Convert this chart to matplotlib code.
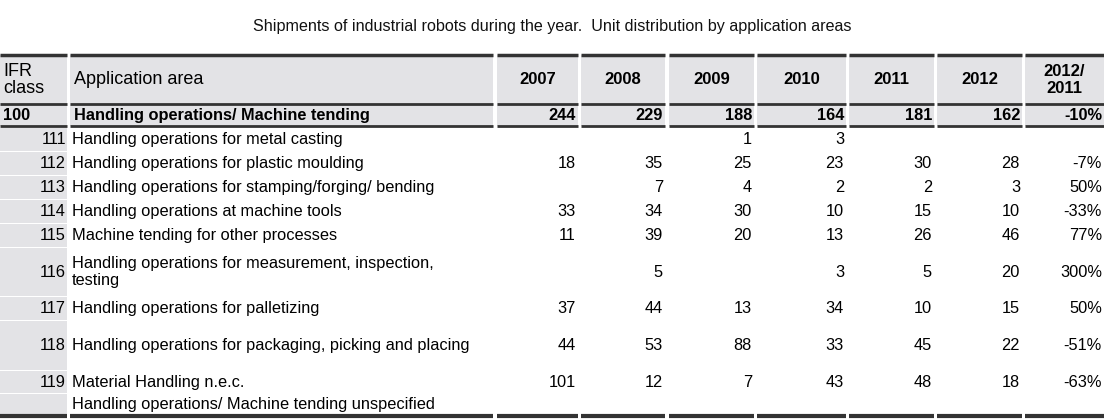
import matplotlib.pyplot as plt
from matplotlib.patches import Rectangle

plt.rcParams['font.family'] = 'Liberation Sans'

title = "Shipments of industrial robots during the year.  Unit distribution by application areas"
years = ["2007", "2008", "2009", "2010", "2011", "2012", "2012/\n2011"]

total_class = "100"
total_name = "Handling operations/ Machine tending"
total_values = ["244", "229", "188", "164", "181", "162", "-10%"]

classes = ["111", "112", "113", "114", "115", "116", "117", "118", "119", ""]
names = [
    "Handling operations for metal casting",
    "Handling operations for plastic moulding",
    "Handling operations for stamping/forging/ bending",
    "Handling operations at machine tools",
    "Machine tending for other processes",
    "Handling operations for measurement, inspection,\ntesting",
    "Handling operations for palletizing",
    "Handling operations for packaging, picking and placing",
    "Material Handling n.e.c.",
    "Handling operations/ Machine tending unspecified",
]
values = [
    ["", "", "1", "3", "", "", ""],
    ["18", "35", "25", "23", "30", "28", "-7%"],
    ["", "7", "4", "2", "2", "3", "50%"],
    ["33", "34", "30", "10", "15", "10", "-33%"],
    ["11", "39", "20", "13", "26", "46", "77%"],
    ["", "5", "", "3", "5", "20", "300%"],
    ["37", "44", "13", "34", "10", "15", "50%"],
    ["44", "53", "88", "33", "45", "22", "-51%"],
    ["101", "12", "7", "43", "48", "18", "-63%"],
    ["", "", "", "", "", "", ""],
]

# layout in pixels
col_edges = [(0, 67), (70, 493), (497, 578), (581, 665), (669, 754),
             (757, 846), (849, 934), (937, 1022), (1025, 1104)]
row_edges = [(128, 151), (152, 175), (176, 199), (200, 223), (224, 247),
             (248, 296), (297, 320), (321, 370), (371, 393), (394, 414)]
head_top, head_bot, tot_bot = 55, 104, 126
gray = '#e3e3e6'
dark = '#333333'

fig = plt.figure(figsize=(11.04, 4.19), dpi=100)
ax = fig.add_axes([0, 0, 1, 1])
ax.set_xlim(0, 1104)
ax.set_ylim(419, 0)
ax.axis('off')

ax.text(552, 26, title, ha='center', va='center', fontsize=11.6, color='#111111')

for x0, x1 in col_edges:
    ax.add_patch(Rectangle((x0, head_top), x1 - x0, tot_bot - head_top, color=gray, lw=0))
    ax.plot([x0, x1], [head_top, head_top], color=dark, lw=2.5, solid_capstyle='butt')
    ax.plot([x0, x1], [head_bot, head_bot], color=dark, lw=2, solid_capstyle='butt')
    ax.plot([x0, x1], [tot_bot, tot_bot], color=dark, lw=2, solid_capstyle='butt')
    ax.plot([x0, x1], [416, 416], color=dark, lw=3, solid_capstyle='butt')

fs = 11.8
ax.text(3, 80, "IFR\nclass", ha='left', va='center', fontsize=13, linespacing=1.05)
ax.text(74, 80, "Application area", ha='left', va='center', fontsize=13)
for (x0, x1), label in zip(col_edges[2:], years):
    ax.text((x0 + x1) / 2, 80, label, ha='center', va='center', fontsize=12,
            fontweight='bold', linespacing=1.1)

ty = (head_bot + tot_bot) / 2
ax.text(3, ty, total_class, ha='left', va='center', fontsize=fs, fontweight='bold')
ax.text(74, ty, total_name, ha='left', va='center', fontsize=fs, fontweight='bold')
for (x0, x1), v in zip(col_edges[2:], total_values):
    ax.text(x1 - 2, ty, v, ha='right', va='center', fontsize=fs, fontweight='bold')

for (y0, y1), cls, name, vals in zip(row_edges, classes, names, values):
    ax.add_patch(Rectangle((0, y0), 67, y1 - y0, color=gray, lw=0))
    yc = (y0 + y1) / 2
    ax.text(66, yc, cls, ha='right', va='center', fontsize=fs)
    ax.text(72, yc, name, ha='left', va='center', fontsize=fs, linespacing=1.1)
    for (x0, x1), v in zip(col_edges[2:], vals):
        ax.text(x1 - 2, yc, v, ha='right', va='center', fontsize=fs)

fig.savefig('out.png', dpi=100)
